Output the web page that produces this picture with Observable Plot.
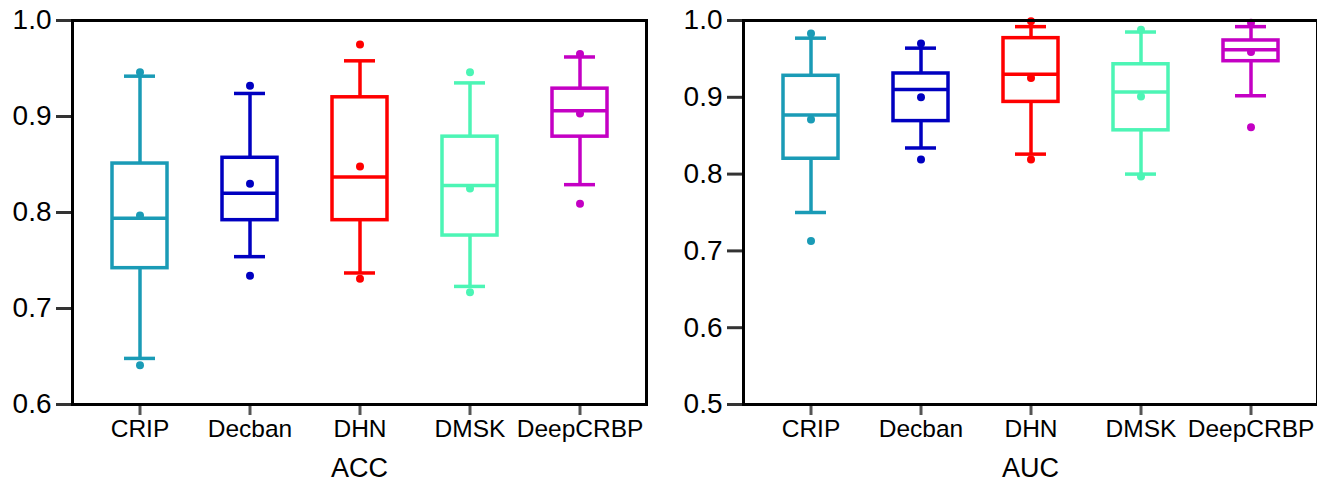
<!DOCTYPE html>
<html>
<head>
<meta charset="utf-8">
<script src="https://cdn.jsdelivr.net/npm/d3@7"></script>
<script src="https://cdn.jsdelivr.net/npm/@observablehq/plot@0.6"></script>
<style>
  html, body { margin: 0; padding: 0; background: white; overflow: hidden; }
  #wrap { display: flex; width: 1317px; height: 483px; overflow: hidden; }
  #wrap svg { flex: none; }
</style>
</head>
<body>
<div id="wrap"></div>
<script>
const categories = ["CRIP", "Decban", "DHN", "DMSK", "DeepCRBP"];
const colors = ["#1a9bb6", "#0000c0", "#ff0000", "#4cf5b5", "#c400c4"];

// ACC panel
const accMax  = [0.946, 0.932, 0.975, 0.946, 0.965];
const accHigh = [0.942, 0.924, 0.958, 0.935, 0.962];
const accQ3   = [0.851, 0.857, 0.920, 0.879, 0.929];
const accMed  = [0.794, 0.820, 0.837, 0.828, 0.906];
const accMean = [0.797, 0.830, 0.848, 0.825, 0.903];
const accQ1   = [0.742, 0.792, 0.792, 0.776, 0.879];
const accLow  = [0.648, 0.754, 0.737, 0.723, 0.829];
const accMin  = [0.641, 0.734, 0.731, 0.717, 0.809];
const accTicks = [0.6, 0.7, 0.8, 0.9, 1.0];

// AUC panel
const aucMax  = [0.983, 0.970, 0.999, 0.988, 0.997];
const aucHigh = [0.977, 0.964, 0.992, 0.985, 0.992];
const aucQ3   = [0.928, 0.931, 0.977, 0.943, 0.974];
const aucMed  = [0.877, 0.910, 0.930, 0.907, 0.962];
const aucMean = [0.871, 0.900, 0.925, 0.901, 0.959];
const aucQ1   = [0.820, 0.869, 0.894, 0.857, 0.947];
const aucLow  = [0.750, 0.834, 0.826, 0.800, 0.902];
const aucMin  = [0.713, 0.819, 0.819, 0.797, 0.861];
const aucTicks = [0.5, 0.6, 0.7, 0.8, 0.9, 1.0];

function panel({width, marginLeft, marginRight, domain, ticks, label, min, low, q1, med, mean, q3, high, max}) {
  const rows = categories.map((c, i) => ({
    cat: c, min: min[i], low: low[i], q1: q1[i], med: med[i], mean: mean[i], q3: q3[i], high: high[i], max: max[i]
  }));
  const sw = 3.5;
  return Plot.plot({
    width, height: 483,
    marginLeft, marginRight, marginTop: 20, marginBottom: 79,
    x: {type: "band", domain: categories, paddingInner: 0.5, paddingOuter: 0.337},
    y: {domain, ticks},
    color: {domain: categories, range: colors},
    style: {fontFamily: "'Liberation Sans', Arial, sans-serif", color: "black", background: "white", overflow: "hidden"},
    marks: [
      Plot.axisY({ticks, tickFormat: d3.format(".1f"), tickSize: 16, tickPadding: 5, fontSize: 28, stroke: "#333", strokeWidth: 3, label: null}),
      Plot.axisX({tickSize: 11, tickPadding: 4, fontSize: 24.5, stroke: "#555", strokeWidth: 3, label: null}),
      Plot.ruleX(rows, {x: "cat", y1: "low", y2: "high", stroke: "cat", strokeWidth: sw}),
      Plot.barY(rows, {x: "cat", y1: "q1", y2: "q3", fill: "white", stroke: "cat", strokeWidth: sw}),
      Plot.tickY(rows, {x: "cat", y: "med", stroke: "cat", strokeWidth: sw}),
      Plot.tickY(rows, {x: "cat", y: "low", stroke: "cat", strokeWidth: sw, inset: 12}),
      Plot.tickY(rows, {x: "cat", y: "high", stroke: "cat", strokeWidth: sw, inset: 12}),
      Plot.dot(rows, {x: "cat", y: "mean", fill: "cat", r: 4}),
      Plot.dot(rows, {x: "cat", y: "min", fill: "cat", r: 4}),
      Plot.dot(rows, {x: "cat", y: "max", fill: "cat", r: 4}),
      Plot.frame({stroke: "black", strokeWidth: 3}),
      Plot.text([label], {frameAnchor: "bottom", lineAnchor: "middle", dy: 64, text: d => d, fontSize: 27, fill: "black"})
    ]
  });
}

const wrap = document.getElementById("wrap");
wrap.appendChild(panel({
  width: 660, marginLeft: 72, marginRight: 14, domain: [0.6, 1.0], ticks: accTicks, label: "ACC",
  min: accMin, low: accLow, q1: accQ1, med: accMed, mean: accMean, q3: accQ3, high: accHigh, max: accMax
}));
wrap.appendChild(panel({
  width: 657, marginLeft: 83, marginRight: 0, domain: [0.5, 1.0], ticks: aucTicks, label: "AUC",
  min: aucMin, low: aucLow, q1: aucQ1, med: aucMed, mean: aucMean, q3: aucQ3, high: aucHigh, max: aucMax
}));
</script>
</body>
</html>
